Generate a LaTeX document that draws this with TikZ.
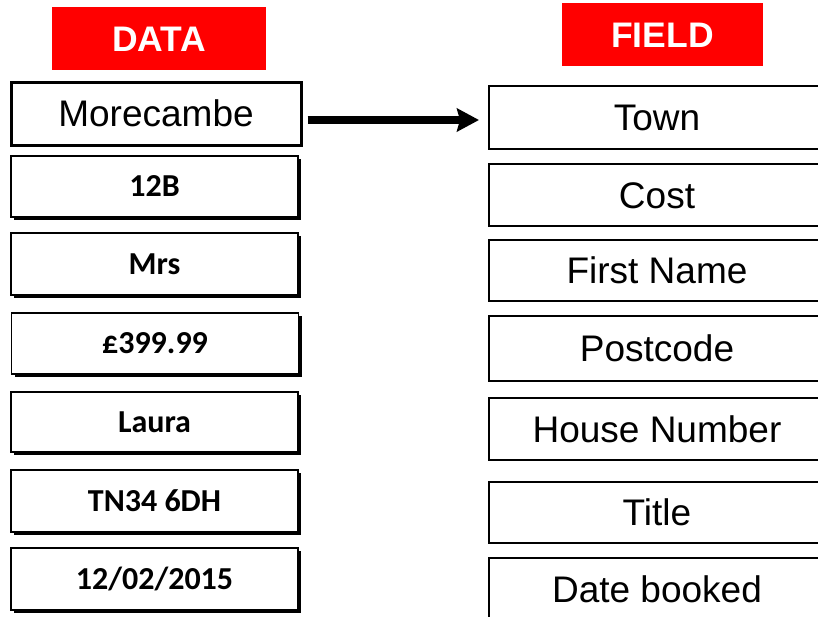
\documentclass[tikz,border=0pt]{standalone}
\usepackage{fontspec}
\setmainfont{Liberation Sans}
\newfontfamily\calibri{Carlito}
\usetikzlibrary{arrows.meta,shadows}

\tikzset{
  header/.style={fill=red, minimum width=#1, minimum height=63pt, inner sep=0pt,
    text=white, font=\fontsize{35.5}{39}\selectfont\bfseries,
    text height=25.4pt, text depth=0pt},
  fieldbox/.style={draw=black, line width=2pt, fill=white, minimum width=336pt,
    inner sep=0pt, font=\fontsize{37}{41}\selectfont,
    text height=26.5pt, text depth=0pt},
  databox/.style={draw=black, line width=1.4pt, fill=white, minimum width=287pt,
    inner sep=0pt, font=\calibri\bfseries\fontsize{32}{36}\selectfont,
    text height=20.6pt, text depth=0pt,
    drop shadow={shadow xshift=3pt, shadow yshift=-3pt, fill=black, opacity=1}},
  firstbox/.style={draw=black, line width=3pt, fill=white, minimum width=290pt,
    minimum height=63pt, inner sep=0pt, font=\fontsize{37}{41}\selectfont,
    text height=26.5pt, text depth=0pt},
  link/.style={line width=8pt, -{Stealth[length=22pt,width=23pt,inset=3pt]}}
}

\begin{document}
\begin{tikzpicture}[x=1pt, y=-1pt]
  \useasboundingbox (0,0) rectangle (818,616);

  % column headings
  \node[header=214pt] (hdata)  at (159,38.5)  {DATA};
  \node[header=201pt] (hfield) at (662.5,34.5) {FIELD};

  % data values
  \node[firstbox] (d1) at (156,113.5) {Morecambe};
  \node[databox, minimum height=61pt] (d2) at (154.5,186.5) {12B};
  \node[databox, minimum height=62pt] (d3) at (154.5,264)   {Mrs};
  \node[databox, minimum height=61pt] (d4) at (155,343.5)   {£399.99};
  \node[databox, minimum height=60pt] (d5) at (154.5,422)   {Laura};
  \node[databox, minimum height=62pt] (d6) at (154.5,501)   {TN34 6DH};
  \node[databox, minimum height=62pt] (d7) at (154.5,579)   {12/02/2015};

  % field names
  \node[fieldbox, minimum height=63pt] (f1) at (657,117.5) {Town};
  \node[fieldbox, minimum height=62pt] (f2) at (657,195)   {Cost};
  \node[fieldbox, minimum height=61pt] (f3) at (657,270.5) {First Name};
  \node[fieldbox, minimum height=65pt] (f4) at (657,348.5) {Postcode};
  \node[fieldbox, minimum height=62pt] (f5) at (657,429)   {House Number};
  \node[fieldbox, minimum height=61pt] (f6) at (657,512.5) {Title};
  \node[fieldbox, minimum height=63pt] (f7) at (657,589.5) {Date booked};

  % example link, a little below the middle of the first box
  \coordinate (src) at ([yshift=-6.5pt]d1.east);
  \draw[link, shorten <=5pt, shorten >=9pt] (src) -- (src -| f1.west);
\end{tikzpicture}
\end{document}
